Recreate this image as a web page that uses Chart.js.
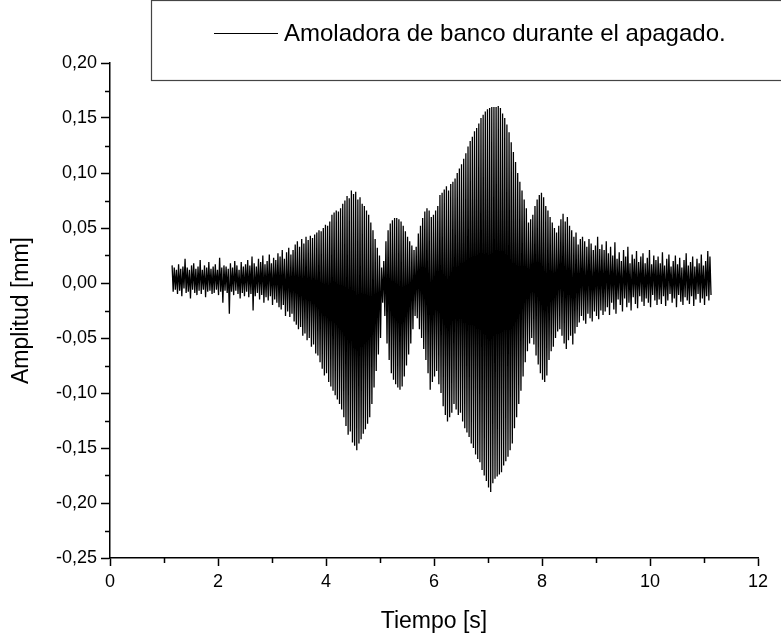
<!DOCTYPE html>
<html lang="es">
<head>
<meta charset="utf-8">
<title>Amoladora de banco durante el apagado</title>
<script src="https://cdn.jsdelivr.net/npm/chart.js@4.4.1/dist/chart.umd.min.js"></script>
<style>
  html, body { margin: 0; padding: 0; background: #fff; }
  #wrap { width: 781px; height: 639px; }
</style>
</head>
<body>
<div id="wrap"><canvas id="chart-apagado" width="781" height="639"></canvas></div>
<script>
// Señal de vibración de la amoladora al apagarla
const serieNombre = "Amoladora de banco durante el apagado.";
const inicio = 1.15;   // s, primer pico registrado
const paso = 0.02;     // s entre un pico y el valle siguiente

// máximos de cada ciclo (milésimas de mm), una fila por segundo
const picos = [
  16, 14, 12, 17, 13, 15, 22, 14, 12, 16, 18, 13, 15, 21, 12, 16, 14, 19, 13, 15, 17, 12, 23, 14, 16,
  15, 13, 18, 14, 20, 16, 12, 19, 15, 17, 21, 16, 24, 18, 15, 22, 19, 25, 17, 20, 26, 18, 23, 21, 27,
  24, 30, 22, 28, 32, 26, 30, 35, 38, 33, 40, 36, 42, 39, 43, 41, 44, 46, 48, 47, 50, 53, 52, 56, 62,
  64, 66, 65, 68, 72, 75, 79, 77, 84, 81, 83, 76, 78, 72, 70, 66, 62, 55, 48, 40, 32, 25, 14, 20, 38,
  48, 54, 57, 59, 59, 58, 56, 52, 47, 42, 38, 34, 30, 33, 45, 52, 59, 65, 68, 66, 60, 62, 66, 70, 80,
  82, 85, 88, 84, 90, 92, 95, 100, 104, 108, 113, 118, 124, 129, 133, 138, 141, 145, 150, 153, 156, 158, 159, 160, 160,
  160, 161, 159, 154, 150, 144, 137, 128, 119, 110, 100, 92, 84, 76, 68, 55, 58, 62, 70, 76, 80, 82, 78, 70, 66,
  60, 55, 50, 46, 52, 58, 63, 56, 60, 52, 48, 42, 46, 35, 40, 42, 38, 33, 40, 36, 30, 34, 42, 31, 35,
  30, 38, 27, 33, 25, 37, 22, 28, 20, 30, 24, 33, 18, 26, 22, 29, 19, 24, 27, 18, 23, 30, 17, 25, 21,
  24, 18, 28, 16, 22, 26, 15, 20, 25, 17, 23, 14, 21, 27, 16, 19, 24, 15, 22, 18, 26, 16, 20, 29, 24
];

// mínimos de cada ciclo (milésimas de mm)
const valles = [
  -8, -6, -10, -7, -12, -5, -9, -8, -14, -6, -9, -11, -7, -10, -6, -13, -8, -7, -10, -9, -6, -11, -8, -18, -7,
  -9, -28, -8, -11, -7, -10, -14, -9, -12, -8, -13, -10, -25, -12, -9, -15, -11, -18, -13, -16, -12, -20, -15, -18, -22,
  -24, -20, -30, -26, -31, -28, -35, -38, -42, -40, -48, -46, -52, -50, -58, -56, -64, -66, -72, -78, -84, -82, -90, -94, -98,
  -102, -106, -110, -115, -122, -130, -138, -135, -145, -148, -152, -146, -142, -137, -133, -128, -122, -110, -95, -80, -65, -50, -18, -30, -55,
  -70, -82, -88, -92, -95, -97, -94, -85, -75, -65, -55, -42, -30, -32, -42, -50, -60, -70, -82, -97, -90, -85, -80, -92, -100,
  -112, -120, -126, -122, -118, -110, -115, -120, -118, -126, -132, -136, -140, -146, -150, -156, -160, -163, -170, -175, -180, -186, -190, -182, -178,
  -176, -174, -172, -166, -162, -158, -152, -146, -132, -122, -110, -98, -85, -72, -62, -55, -50, -56, -66, -74, -82, -88, -90, -84, -70,
  -62, -58, -50, -44, -42, -48, -55, -60, -52, -48, -56, -46, -40, -36, -30, -34, -37, -28, -32, -35, -26, -30, -33, -25, -29,
  -26, -22, -29, -18, -24, -28, -15, -20, -26, -14, -22, -18, -25, -13, -19, -23, -12, -17, -21, -14, -18, -22, -11, -16, -20,
  -15, -19, -12, -21, -16, -10, -18, -14, -22, -11, -17, -20, -13, -16, -19, -12, -21, -15, -10, -18, -14, -20, -12, -16, -11
];

const ticksX = [0, 2, 4, 6, 8, 10, 12];
const menoresX = [1, 3, 5, 7, 9, 11];
const ticksY = [-0.25, -0.20, -0.15, -0.10, -0.05, 0, 0.05, 0.10, 0.15, 0.20];
const menoresY = [-0.225, -0.175, -0.125, -0.075, -0.025, 0.025, 0.075, 0.125, 0.175];

// pico y valle alternados sobre el eje de tiempo
const puntos = [];
for (let i = 0; i < picos.length; i++) {
    const t = inicio + 2 * i * paso;
    puntos.push({ x: t, y: picos[i] / 1000 });
    puntos.push({ x: t + paso, y: valles[i] / 1000 });
}

const fuente = '"Liberation Sans", Arial, sans-serif';

// marcas menores y cuadro de leyenda
const extras = {
    id: 'extras',
    afterDraw(chart) {
        const ctx = chart.ctx;
        const sx = chart.scales.x;
        const sy = chart.scales.y;
        ctx.save();
        ctx.strokeStyle = '#000';
        ctx.lineWidth = 1.5;
        ctx.beginPath();
        menoresX.forEach(v => {
            const px = Math.round(sx.getPixelForValue(v)) + 0.5;
            ctx.moveTo(px, sx.top);
            ctx.lineTo(px, sx.top + 5);
        });
        menoresY.forEach(v => {
            const py = Math.round(sy.getPixelForValue(v)) + 0.5;
            ctx.moveTo(sy.right, py);
            ctx.lineTo(sy.right - 5, py);
        });
        ctx.stroke();

        ctx.strokeStyle = '#444';
        ctx.lineWidth = 1.2;
        ctx.strokeRect(151.5, 0.5, 660, 80);

        ctx.strokeStyle = '#000';
        ctx.lineWidth = 1;
        ctx.beginPath();
        ctx.moveTo(214, 33.5);
        ctx.lineTo(278, 33.5);
        ctx.stroke();

        ctx.fillStyle = '#000';
        ctx.font = '24px ' + fuente;
        ctx.textBaseline = 'middle';
        ctx.textAlign = 'left';
        ctx.fillText(serieNombre, 284, 34);
        ctx.restore();
    }
};

const ctx = document.getElementById("chart-apagado").getContext("2d");
new Chart(ctx, {
    type: 'line',
    data: {
        datasets: [{
            label: serieNombre,
            data: puntos,
            borderColor: '#000',
            borderWidth: 1.3,
            pointRadius: 0,
            tension: 0,
            fill: false
        }]
    },
    options: {
        responsive: false,
        animation: false,
        parsing: false,
        layout: { padding: { left: 0, top: 63, right: 23, bottom: 0 } },
        plugins: {
            legend: { display: false },
            tooltip: { enabled: false }
        },
        scales: {
            x: {
                type: 'linear',
                min: 0,
                max: 12,
                afterBuildTicks: scale => { scale.ticks = ticksX.map(v => ({ value: v })); },
                afterFit: scale => { scale.height = 81; },
                border: { display: true, color: '#000', width: 1.5 },
                grid: { drawOnChartArea: false, drawTicks: true, tickLength: 8, tickColor: '#000', tickWidth: 1.5 },
                ticks: {
                    color: '#000',
                    padding: 5,
                    maxRotation: 0,
                    font: { family: fuente, size: 18 },
                    callback: v => String(v)
                },
                title: {
                    display: true,
                    text: 'Tiempo [s]',
                    color: '#000',
                    font: { family: fuente, size: 23 },
                    padding: { top: 0, bottom: 4 }
                }
            },
            y: {
                type: 'linear',
                min: -0.25,
                max: 0.20,
                afterBuildTicks: scale => { scale.ticks = ticksY.map(v => ({ value: v })); },
                afterFit: scale => { scale.width = 110; },
                border: { display: true, color: '#000', width: 1.5 },
                grid: { drawOnChartArea: false, drawTicks: true, tickLength: 9, tickColor: '#000', tickWidth: 1.5 },
                ticks: {
                    color: '#000',
                    padding: 4,
                    font: { family: fuente, size: 18 },
                    callback: v => v.toFixed(2).replace('.', ',')
                },
                title: {
                    display: true,
                    text: 'Amplitud [mm]',
                    color: '#000',
                    font: { family: fuente, size: 23 },
                    padding: { top: 8, bottom: 0 }
                }
            }
        }
    },
    plugins: [extras]
});
</script>
</body>
</html>
